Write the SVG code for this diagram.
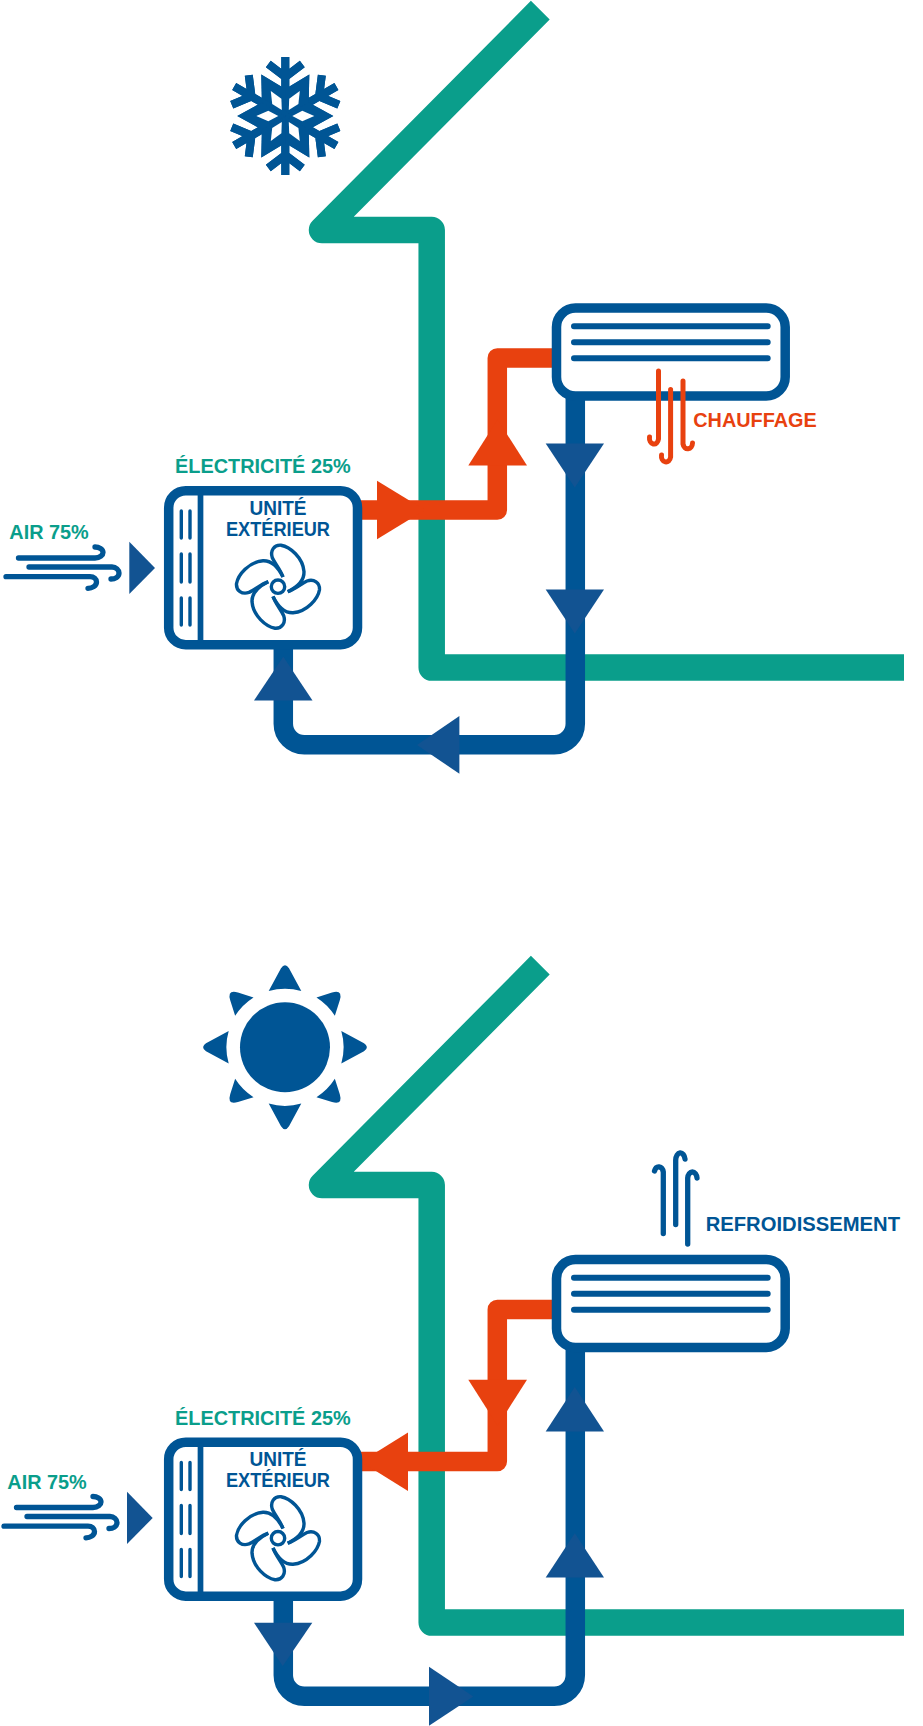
<svg xmlns="http://www.w3.org/2000/svg" xmlns:xlink="http://www.w3.org/1999/xlink" width="923" height="1726" viewBox="0 0 923 1726">
<style>
text{font-family:"Liberation Sans",Arial,sans-serif;font-weight:700;font-size:20px}
.unit{font-size:19.5px}
.teal{fill:#0a9e8b}.blue{fill:#005595}.red{fill:#e8410f}
.wall{fill:none;stroke:#0a9e8b;stroke-width:26.5;stroke-linejoin:round}
.pipe-b{fill:none;stroke:#005595;stroke-width:19.5}
.pipe-r{fill:none;stroke:#e8410f;stroke-width:19.5;stroke-linejoin:round}
.head-b{fill:#125392}.head-r{fill:#e8410f}
.shell{fill:#fff;stroke:#005595;stroke-width:9.5}
.thin{fill:none;stroke:#005595;stroke-linecap:round}
</style>
<defs>
<g id="wall-shape"><path class="wall" d="M540.3,10.2 L322,230 H431.7 V667.6 H904"/></g>
<g id="blade"><path d="M5,-9.7 C2.5,-17 -3,-23 -5.7,-29 C-8,-36 -4,-42 3,-41.5 C12,-40 25,-29 26,-15 C26.3,-7 20,0 9.7,5" fill="none" stroke="#005595" stroke-width="3.4" stroke-linejoin="round"/></g>
<g id="outdoor">
<rect class="shell" x="168.7" y="490.7" width="188.8" height="154" rx="17"/>
<path d="M200.5,491 V644" fill="none" stroke="#005595" stroke-width="5.7"/>
<path class="thin" stroke-width="3.4" d="M181.3,511 V538 M190,511 V538 M181.3,554 V582 M190,554 V582 M181.3,598 V625 M190,598 V625"/>
<g transform="translate(278,586.7)">
<use href="#blade"/><use href="#blade" transform="rotate(90)"/><use href="#blade" transform="rotate(180)"/><use href="#blade" transform="rotate(270)"/>
<circle r="6.7" fill="none" stroke="#005595" stroke-width="3.4"/>
</g>
</g>
<g id="indoor">
<rect class="shell" x="556.5" y="308" width="228.7" height="88" rx="19"/>
<path class="thin" stroke-width="6" d="M574,326.3 H767.7 M574,342.3 H767.7 M574,358.3 H767.7"/>
</g>
<g id="wind">
<path class="thin" stroke-width="5.3" d="M18.5,558 H95 C100,558 103,555 103,552.5 C103,549 99,547 95,547 M29,567 H112 C116,567 119,570 119,573 C119,577 115,579 111,579 M6,576.7 H90 C94,576.7 96.5,579 96.5,582 C96.5,586 92,588.3 88,588.3"/>
</g>
<g id="flake-arm">
<path d="M0,0 V-59 M-17,-52 L0,-39 L17,-52" fill="none" stroke="#005595" stroke-width="8"/>
<polygon points="0,0 0,-27 24,-41.6 23.4,-13.5" fill="#005595"/>
</g>
<polygon id="rhomb" points="-29,0 -17,-5.3 -7,0 -17,5.3" fill="#fff"/>
<path id="ray-big" d="M-16.3,-56.3 A58.6,58.6 0 0 1 16.3,-56.3 L4,-79 Q0,-85 -4,-79 Z" fill="#005595"/>
<path id="ray-small" d="M-13,-57.5 A59,59 0 0 1 13,-57.5 L5.5,-72 Q0,-82 -5.5,-72 Z" fill="#005595"/>
</defs>

<g id="walls">
<use href="#wall-shape"/>
<use href="#wall-shape" transform="translate(0,955)"/>
</g>

<g id="connectors">
<path class="pipe-r" d="M355,510 H497.3 V358 H556"/>
<path class="pipe-b" d="M575.3,396 V723.7 A21,21 0 0 1 554.3,744.7 H304.3 A21,21 0 0 1 283.3,723.7 V645"/>
<path class="pipe-r" d="M355,1461.5 H497.3 V1309.5 H556"/>
<path class="pipe-b" d="M575.3,1347.5 V1675.2 A21,21 0 0 1 554.3,1696.2 H304.3 A21,21 0 0 1 283.3,1675.2 V1596"/>
<polygon class="head-r" points="377,480.7 377,539.3 425,510"/>
<polygon class="head-r" points="468.3,465.6 527,465.6 497.6,419.6"/>
<polygon class="head-b" points="545.7,443.5 604,443.5 574.8,487.5"/>
<polygon class="head-b" points="545.7,589.4 604,589.4 574.8,633.4"/>
<polygon class="head-b" points="459.4,716 459.4,773.8 417,744.9"/>
<polygon class="head-b" points="254,700.6 312.5,700.6 283.3,656.7"/>
<polygon class="head-r" points="408,1432.6 408,1491 361,1461.8"/>
<polygon class="head-r" points="468.3,1379.8 527,1379.8 497.6,1425.8"/>
<polygon class="head-b" points="545.7,1431.5 604,1431.5 574.8,1387"/>
<polygon class="head-b" points="545.7,1577.4 604,1577.4 574.8,1533.3"/>
<polygon class="head-b" points="254,1622.7 312.3,1622.7 282.7,1666"/>
<polygon class="head-b" points="429,1666.7 429,1725.7 473.3,1696.5"/>
</g>

<g id="snowflake" transform="translate(285.3,116)">
<use href="#flake-arm"/><use href="#flake-arm" transform="rotate(60)"/><use href="#flake-arm" transform="rotate(120)"/><use href="#flake-arm" transform="rotate(180)"/><use href="#flake-arm" transform="rotate(240)"/><use href="#flake-arm" transform="rotate(300)"/>
<use href="#flake-arm" transform="scale(-1,1)"/><use href="#flake-arm" transform="rotate(60) scale(-1,1)"/><use href="#flake-arm" transform="rotate(120) scale(-1,1)"/><use href="#flake-arm" transform="rotate(180) scale(-1,1)"/><use href="#flake-arm" transform="rotate(240) scale(-1,1)"/><use href="#flake-arm" transform="rotate(300) scale(-1,1)"/>
<use href="#rhomb"/><use href="#rhomb" transform="rotate(60)"/><use href="#rhomb" transform="rotate(120)"/><use href="#rhomb" transform="rotate(180)"/><use href="#rhomb" transform="rotate(240)"/><use href="#rhomb" transform="rotate(300)"/>
</g>

<g id="sun" transform="translate(285,1047.3)">
<circle r="45" fill="#005595"/>
<use href="#ray-big"/><use href="#ray-big" transform="rotate(90)"/><use href="#ray-big" transform="rotate(180)"/><use href="#ray-big" transform="rotate(270)"/>
<use href="#ray-small" transform="rotate(45)"/><use href="#ray-small" transform="rotate(135)"/><use href="#ray-small" transform="rotate(225)"/><use href="#ray-small" transform="rotate(315)"/>
</g>

<g id="outdoor-winter">
<use href="#outdoor"/>
<text class="blue unit" x="278" y="515" text-anchor="middle" textLength="57" lengthAdjust="spacingAndGlyphs">UNITÉ</text>
<text class="blue unit" x="278" y="535.7" text-anchor="middle" textLength="104" lengthAdjust="spacingAndGlyphs">EXTÉRIEUR</text>
</g>
<g id="indoor-winter">
<use href="#indoor"/>
<path d="M658.5,371 V439 A4.5,6 0 0 1 649.5,437 M670.6,389.5 V457 A4.6,6 0 0 1 661.5,455 M683,381 V444 A4.8,6 0 0 0 692.5,443" fill="none" stroke="#e8410f" stroke-width="5" stroke-linecap="round"/>
<text class="red" x="693.3" y="426.7" textLength="123.4" lengthAdjust="spacingAndGlyphs">CHAUFFAGE</text>
</g>
<g id="electricity-winter"><text class="teal" x="175" y="472.7" textLength="175.7" lengthAdjust="spacingAndGlyphs">ÉLECTRICITÉ 25%</text></g>
<g id="air-winter">
<text class="teal" x="9.3" y="538.7" textLength="79.4" lengthAdjust="spacingAndGlyphs">AIR 75%</text>
<use href="#wind"/>
<polygon class="head-b" points="129.3,541.7 129.3,594 155,568"/>
</g>

<g id="outdoor-summer">
<use href="#outdoor" transform="translate(0,951.5)"/>
<text class="blue unit" x="278" y="1466.4" text-anchor="middle" textLength="57" lengthAdjust="spacingAndGlyphs">UNITÉ</text>
<text class="blue unit" x="278" y="1487.1" text-anchor="middle" textLength="104" lengthAdjust="spacingAndGlyphs">EXTÉRIEUR</text>
</g>
<g id="indoor-summer">
<use href="#indoor" transform="translate(0,951.5)"/>
<path class="thin" stroke-width="5.3" d="M663.3,1233.5 V1172 A4.6,6.5 0 0 0 654.5,1171 M675.7,1224.5 V1160 A4.7,7.5 0 0 1 685,1159 M687.7,1244 V1178 A4.7,7 0 0 1 697,1178"/>
<text class="blue" x="705.7" y="1230.7" textLength="194.3" lengthAdjust="spacingAndGlyphs">REFROIDISSEMENT</text>
</g>
<g id="electricity-summer"><text class="teal" x="175" y="1424.5" textLength="175.7" lengthAdjust="spacingAndGlyphs">ÉLECTRICITÉ 25%</text></g>
<g id="air-summer">
<text class="teal" x="7.3" y="1488.7" textLength="79.4" lengthAdjust="spacingAndGlyphs">AIR 75%</text>
<use href="#wind" transform="translate(-2,949.5)"/>
<polygon class="head-b" points="127,1491.7 127,1544 152.7,1518"/>
</g>
</svg>
